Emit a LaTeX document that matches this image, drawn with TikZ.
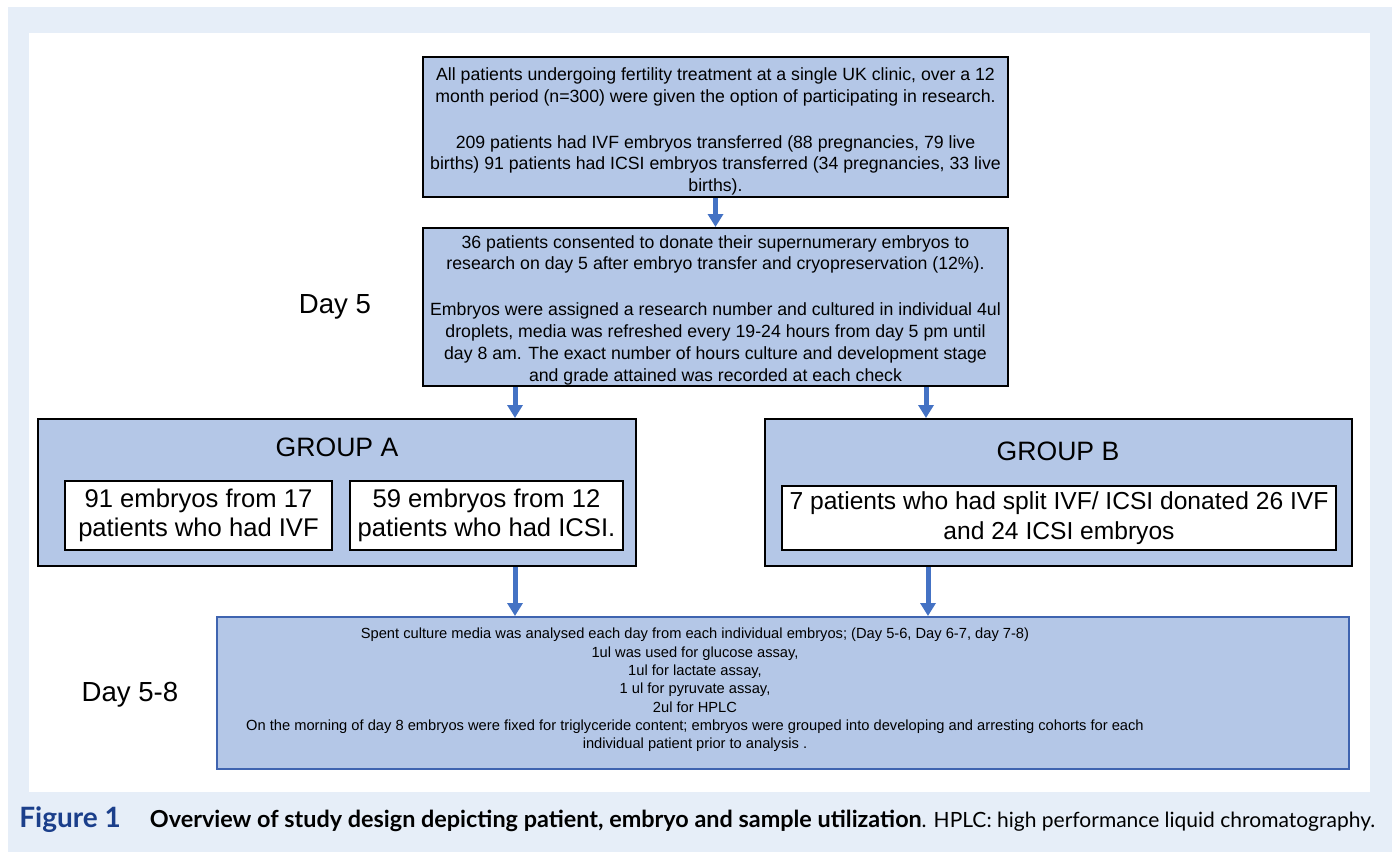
\documentclass[tikz,border=0pt]{standalone}
\usepackage{fontspec}
\setmainfont{Liberation Sans}
\newfontfamily\capfont{Lato}
\usetikzlibrary{arrows.meta}
\definecolor{bgblue}{HTML}{E6EEF8}
\definecolor{boxfill}{HTML}{B4C7E7}
\definecolor{arrowblue}{HTML}{4472C4}
\definecolor{botborder}{HTML}{3F64B0}
\definecolor{capblue}{HTML}{1B3F8B}
\begin{document}
\begin{tikzpicture}[x=0.5pt,y=-0.5pt,
  box/.style={draw=black, line width=1pt, fill=boxfill, inner sep=0pt, align=center},
  inbox/.style={draw=black, line width=0.75pt, fill=white, inner sep=0pt, align=center, font=\fontsize{12.5}{14.8}\selectfont},
  txt/.style={inner sep=0pt, align=center},
  bigtxt/.style={inner sep=0pt, font=\fontsize{13.3}{15}\selectfont},
  midtxt/.style={font=\fontsize{8.85}{10.9}\selectfont},
  smalltxt/.style={font=\fontsize{7.34}{9.15}\selectfont},
  flow/.style={draw=arrowblue, line width=2.5pt, -{Triangle[width=7.5pt,length=6.5pt]}}]
% background
\useasboundingbox (0,0) rectangle (1392,852);
\fill[white] (0,0) rectangle (1392,852);
\fill[bgblue] (8,7) rectangle (1392,852);
\fill[white] (29,33) rectangle (1370,792);
% boxes
\node[box, minimum width=292.5pt, minimum height=70pt] (top) at (715.5,127) {};
\node[txt, midtxt] (toptxt) at (715.5,131.5)
 {All patients undergoing fertility treatment at a single UK clinic, over a 12\\
  month period (n=300) were given the option of participating in research.\\[12pt]
  209 patients had IVF embryos transferred (88 pregnancies, 79 live\\
  births) 91 patients had ICSI embryos transferred (34 pregnancies, 33 live\\
  births).};
\node[box, minimum width=292.5pt, minimum height=79pt] (mid) at (715.5,307) {};
\node[txt, midtxt] (midtxtn) at (715.5,310)
 {36 patients consented to donate their supernumerary embryos to\\
  research on day 5 after embryo transfer and cryopreservation (12\%).\\[12pt]
  Embryos were assigned a research number and cultured in individual 4ul\\
  droplets, media was refreshed every 19-24 hours from day 5 pm until\\
  day 8 am. The exact number of hours culture and development stage\\
  and grade attained was recorded at each check};
\node[box, minimum width=299pt, minimum height=73.5pt] (ga) at (337,492.5) {};
\node[box, minimum width=293.5pt, minimum height=73.5pt] (gb) at (1058.5,492.5) {};
\node[bigtxt] (gat) at (337,447) {GROUP A};
\node[bigtxt] (gbt) at (1058,451) {GROUP B};
\node[inbox, font=\fontsize{12.8}{14.8}\selectfont, minimum width=133.5pt, minimum height=34.5pt] (a1) at (198.5,515.5)
 {91 embryos from 17\\patients who had IVF};
\node[inbox, font=\fontsize{12.8}{14.8}\selectfont, minimum width=136.5pt, minimum height=34.5pt] (a2) at (486.5,515.5)
 {59 embryos from 12\\patients who had ICSI.};
\node[inbox, font=\fontsize{12.3}{14.8}\selectfont, minimum width=277pt, minimum height=32pt] (b1) at (1059,518)
 {7 patients who had split IVF/ ICSI donated 26 IVF\\and 24 ICSI embryos};
\node[box, draw=botborder, minimum width=566pt, minimum height=76pt] (bot) at (783,693) {};
\node[txt, smalltxt] (bottxt) at (695,690)
 {Spent culture media was analysed each day from each individual embryos; (Day 5-6, Day 6-7, day 7-8)\\
  1ul was used for glucose assay,\\
  1ul for lactate assay,\\
  1 ul for pyruvate assay,\\
  2ul for HPLC\\
  On the morning of day 8 embryos were fixed for triglyceride content; embryos were grouped into developing and arresting cohorts for each\\
  individual patient prior to analysis .};
\node[bigtxt, font=\fontsize{13.8}{15}\selectfont] (d5) at (335,307) {Day 5};
\node[bigtxt, font=\fontsize{13.8}{15}\selectfont] (d58) at (130,695) {Day 5-8};
% arrows
\coordinate (xl) at (515,0);
\coordinate (xr) at (926,0);
\coordinate (xr2) at (928,0);
\draw[flow] (top.south) -- (mid.north);
\draw[flow] (mid.south -| xl) -- (ga.north -| xl);
\draw[flow] (mid.south -| xr) -- (gb.north -| xr);
\draw[flow] (ga.south -| xl) -- (bot.north -| xl);
\draw[flow] (gb.south -| xr2) -- (bot.north -| xr2);
% caption
\node[anchor=base west, inner sep=0pt, font=\capfont] (cap) at (19,827)
 {\fontsize{14}{14}\selectfont\textcolor{capblue}{\textbf{Figure 1}}\hspace{14.5pt}\fontsize{11.7}{14}\selectfont\textbf{Overview of study design depicting patient, embryo and sample utilization}\fontsize{10.5}{14}\selectfont. HPLC: high performance liquid chromatography.};
\end{tikzpicture}
\end{document}
